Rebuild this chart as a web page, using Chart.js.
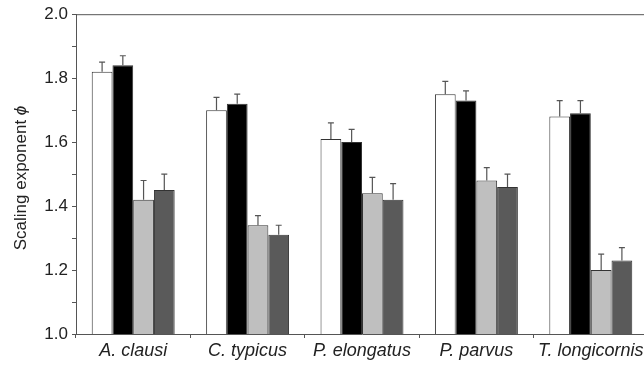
<!DOCTYPE html>
<html>
<head>
<meta charset="utf-8">
<script src="https://cdn.jsdelivr.net/npm/chart.js@4.4.0/dist/chart.umd.min.js"></script>
<style>
html,body{margin:0;padding:0;background:#fff;overflow:hidden;}
#wrap{width:650px;height:365px;position:relative;}
</style>
</head>
<body>
<div id="wrap"><canvas id="c" width="650" height="365"></canvas></div>
<script>
const categories = ["A. clausi", "C. typicus", "P. elongatus", "P. parvus", "T. longicornis"];
const seriesWhite = [1.82, 1.70, 1.61, 1.75, 1.68];
const seriesBlack = [1.84, 1.72, 1.60, 1.73, 1.69];
const seriesLight = [1.42, 1.34, 1.44, 1.48, 1.20];
const seriesDark  = [1.45, 1.31, 1.42, 1.46, 1.23];
const errWhite = [1.85, 1.74, 1.66, 1.79, 1.73];
const errBlack = [1.87, 1.75, 1.64, 1.76, 1.73];
const errLight = [1.48, 1.37, 1.49, 1.52, 1.25];
const errDark  = [1.50, 1.34, 1.47, 1.50, 1.27];
const yTickLabels = ["1.0", "1.2", "1.4", "1.6", "1.8", "2.0"];

const FONT = "'Liberation Sans', Arial, Helvetica, sans-serif";

const errorPlugin = {
  id: 'errbars',
  afterDatasetsDraw(chart) {
    const ctx = chart.ctx;
    const ys = chart.scales.y;
    chart.data.datasets.forEach((ds, i) => {
      const meta = chart.getDatasetMeta(i);
      meta.data.forEach((el, j) => {
        const top = ys.getPixelForValue(ds.errTop[j]);
        ctx.save();
        ctx.strokeStyle = '#555';
        ctx.lineWidth = 1.2;
        ctx.beginPath();
        ctx.moveTo(el.x, el.y);
        ctx.lineTo(el.x, top);
        ctx.moveTo(el.x - 3, top);
        ctx.lineTo(el.x + 3, top);
        ctx.stroke();
        ctx.restore();
      });
    });
  },
  afterDraw(chart) {
    const ctx = chart.ctx;
    const a = chart.chartArea;
    ctx.save();
    ctx.strokeStyle = '#555';
    ctx.lineWidth = 1;
    ctx.beginPath();
    ctx.moveTo(a.left, a.top + 0.5);
    ctx.lineTo(a.right, a.top + 0.5);
    ctx.stroke();
    // y-axis title with italic phi
    const t1 = 'Scaling exponent ';
    const t2 = '\u03D5';
    const fs = 17;
    ctx.fillStyle = '#222';
    ctx.font = fs + 'px ' + FONT;
    const w1 = ctx.measureText(t1).width;
    ctx.font = 'italic ' + fs + 'px ' + FONT;
    const w2 = ctx.measureText(t2).width;
    const total = w1 + w2;
    ctx.translate(21, 178);
    ctx.rotate(-Math.PI / 2);
    ctx.textBaseline = 'middle';
    ctx.textAlign = 'left';
    ctx.font = fs + 'px ' + FONT;
    ctx.fillText(t1, -total / 2, 0);
    ctx.font = 'italic ' + fs + 'px ' + FONT;
    ctx.fillText(t2, -total / 2 + w1, 0);
    ctx.restore();
  }
};

const mk = (label, data, err, fill) => ({
  label, data, errTop: err,
  backgroundColor: fill,
  borderColor: '#333',
  borderWidth: 1,
  borderSkipped: 'bottom',
  barPercentage: 1.0,
  categoryPercentage: 0.725
});

new Chart(document.getElementById('c'), {
  type: 'bar',
  data: {
    labels: categories,
    datasets: [
      mk('White', seriesWhite, errWhite, '#ffffff'),
      mk('Black', seriesBlack, errBlack, '#000000'),
      mk('Light', seriesLight, errLight, '#bfbfbf'),
      mk('Dark', seriesDark, errDark, '#5a5a5a')
    ]
  },
  options: {
    responsive: false,
    animation: false,
    layout: { padding: { top: 13, right: 2, left: 0, bottom: 0 } },
    plugins: { legend: { display: false }, tooltip: { enabled: false } },
    scales: {
      x: {
        offset: true,
        grid: { offset: true, drawOnChartArea: false, drawTicks: true, tickLength: 4, color: '#555' },
        border: { display: true, color: '#555', width: 1 },
        ticks: { color: '#222', font: { family: FONT, size: 18, style: 'italic' }, padding: 2, maxRotation: 0, autoSkip: false },
        afterFit(s) { s.height = 31; }
      },
      y: {
        min: 1.0, max: 2.0,
        grid: { drawOnChartArea: false, drawTicks: true, tickLength: 4, color: '#555' },
        border: { display: true, color: '#555', width: 1 },
        ticks: {
          stepSize: 0.1,
          autoSkip: false,
          color: '#222',
          font: { family: FONT, size: 17 },
          padding: 4,
          callback(v) {
            const r = Math.round(v * 10);
            if (r % 2 !== 0) return '';
            const s = (r / 10).toFixed(1);
            return yTickLabels.includes(s) ? s : '';
          }
        },
        afterFit(s) { s.width = 76; }
      }
    }
  },
  plugins: [errorPlugin]
});
</script>
</body>
</html>
